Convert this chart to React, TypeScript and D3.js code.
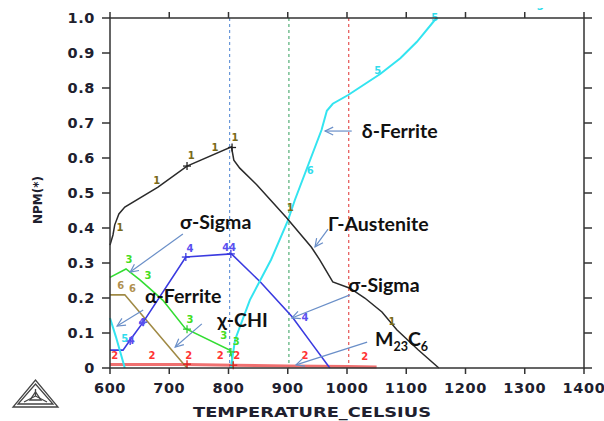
import React from "react";
import * as d3 from "d3";

// ---- data ----
const xTicks = [600, 700, 800, 900, 1000, 1100, 1200, 1300, 1400];
const yTicks = [0, 0.1, 0.2, 0.3, 0.4, 0.5, 0.6, 0.7, 0.8, 0.9, 1.0];
const yTickLabels = ["0", "0.1", "0.2", "0.3", "0.4", "0.5", "0.6", "0.7", "0.8", "0.9", "1.0"];

// series 1 : Γ-Austenite
const austenite: [number, number][] = [
  [600, 0.351], [605, 0.38], [608, 0.409], [615, 0.44], [625, 0.46], [681, 0.517], [730, 0.577],
  [805, 0.632], [809, 0.594], [819, 0.571], [848, 0.523], [898, 0.429], [940, 0.345],
  [954, 0.309], [976, 0.246], [1005, 0.228], [1030, 0.2], [1059, 0.16], [1084, 0.109],
  [1120, 0.052], [1155, 0]
];
// series 5/6 : δ-Ferrite
const deltaLow: [number, number][] = [[600, 0.143], [610, 0.089], [625, 0]];
const deltaHigh: [number, number][] = [
  [804, 0], [811, 0.08], [836, 0.194], [872, 0.31], [900, 0.42], [912, 0.48], [957, 0.68],
  [966, 0.735], [976, 0.755], [1002, 0.78], [1056, 0.84], [1090, 0.885], [1118, 0.932], [1151, 1.0]
];
// series 4 : σ-Sigma
const sigma: [number, number][] = [
  [600, 0.051], [622, 0.051], [634, 0.08], [656, 0.131], [728, 0.317], [805, 0.326],
  [853, 0.247], [907, 0.147], [940, 0.071], [971, 0]
];
// series 3 : green
const chi: [number, number][] = [
  [600, 0.259], [627, 0.283], [651, 0.251], [663, 0.233], [689, 0.194], [727, 0.113],
  [802, 0.051], [806, 0.03], [808, 0]
];
// series 6 : α-Ferrite
const alphaFerrite: [number, number][] = [[600, 0.209], [625, 0.209], [727, 0.006], [731, 0]];
// series 2 : M23C6
const m23c6: [number, number][] = [[600, 0.01], [730, 0.01], [810, 0.008], [900, 0.006], [1000, 0.004], [1050, 0.003]];

// curve label numbers [T, v, text]
const labels1: [number, number, string][] = [
  [617, 0.403, "1"], [679, 0.537, "1"], [737, 0.609, "1"], [777, 0.631, "1"], [811, 0.66, "1"],
  [904, 0.46, "1"], [1076, 0.135, "1"]
];
const labels5: [number, number, string][] = [
  [938, 0.566, "6"], [1052, 0.851, "5"], [1148, 1.003, "5"], [625, 0.086, "5"], [1326, 1.035, "5"]
];
const labels4: [number, number, string][] = [
  [636, 0.08, "4"], [654, 0.131, "4"], [735, 0.343, "4"], [801, 0.346, "44"], [929, 0.146, "4"]
];
const labels3: [number, number, string][] = [
  [632, 0.311, "3"], [664, 0.266, "3"], [735, 0.14, "3"], [792, 0.094, "3"], [813, 0.077, "3"]
];
const labels6: [number, number, string][] = [[618, 0.237, "6"], [638, 0.229, "6"]];
const labels2: [number, number, string][] = [
  [608, 0.037, "2"], [671, 0.037, "2"], [733, 0.037, "2"], [786, 0.037, "2"], [814, 0.037, "2"],
  [929, 0.037, "2"], [1030, 0.033, "2"]
];
const plus1: [number, number][] = [[730, 0.577], [806, 0.63]];
const plus4: [number, number][] = [[634, 0.077], [656, 0.131], [728, 0.317], [804, 0.326]];
const plus3: [number, number][] = [[730, 0.111], [804, 0.046]];
const plus2: [number, number][] = [[730, 0.011], [808, 0.008]];

// dashed reference temperatures
const refTemps = [802, 902, 1003];
const refColors = ["#4a82d0", "#2f9f5a", "#e23030"];

// phase annotations [T, v, text]
const annotations: [number, number, string][] = [
  [718, 0.397, "σ-Sigma"], [968, 0.391, "Γ-Austenite"], [1025, 0.657, "δ-Ferrite"],
  [659, 0.186, "α-Ferrite"], [781, 0.117, "χ-CHI"], [1002, 0.217, "σ-Sigma"]
];
// arrows [T1, v1, T2, v2] from label to curve
const arrows: [number, number, number, number][] = [
  [1008, 0.677, 963, 0.677], [723, 0.383, 634, 0.274], [968, 0.397, 946, 0.346],
  [656, 0.166, 612, 0.12], [755, 0.126, 710, 0.06], [1005, 0.209, 907, 0.143],
  [1034, 0.074, 914, 0.009]
];

const W = 604, H = 421;
const x = d3.scaleLinear().domain([600, 1400]).range([110, 584]);
const y = d3.scaleLinear().domain([0, 1]).range([368, 18]);
const line = d3.line<[number, number]>().x(d => x(d[0])).y(d => y(d[1]));

const tickFont = { fontFamily: "DejaVu Sans", fontWeight: 700, fontSize: 14.5, fill: "#20202e", letterSpacing: 0.6 } as const;
const annFont = { fontFamily: "Lato", fontWeight: 700, fontSize: 19.5, fill: "#111" } as const;
const numFont = { fontFamily: "DejaVu Sans", fontWeight: 700, fontSize: 10 } as const;

function Labels({ data, color }: { data: [number, number, string][]; color: string }) {
  return (
    <g>
      {data.map((d, i) => (
        <text key={i} x={x(d[0])} y={y(d[1]) + 4} textAnchor="middle" style={{ ...numFont, fill: color }}>{d[2]}</text>
      ))}
    </g>
  );
}
function Plus({ data, color }: { data: [number, number][]; color: string }) {
  return (
    <g stroke={color} strokeWidth={1.3}>
      {data.map((d, i) => (
        <g key={i}>
          <line x1={x(d[0]) - 4} x2={x(d[0]) + 4} y1={y(d[1])} y2={y(d[1])} />
          <line x1={x(d[0])} x2={x(d[0])} y1={y(d[1]) - 4} y2={y(d[1]) + 4} />
        </g>
      ))}
    </g>
  );
}

function Arrow({ a }: { a: [number, number, number, number] }) {
  const x1 = x(a[0]), y1 = y(a[1]), x2 = x(a[2]), y2 = y(a[3]);
  const ang = Math.atan2(y1 - y2, x1 - x2);
  const L = 9, s = 0.45;
  const p1 = [x2 + L * Math.cos(ang + s), y2 + L * Math.sin(ang + s)];
  const p2 = [x2 + L * Math.cos(ang - s), y2 + L * Math.sin(ang - s)];
  return (
    <g stroke="#6a8fc8" strokeWidth={1.2} fill="none">
      <line x1={x1} y1={y1} x2={x2} y2={y2} />
      <path d={`M${p1[0]},${p1[1]} L${x2},${y2} L${p2[0]},${p2[1]}`} />
    </g>
  );
}

export default function App() {
  const x0 = x.range()[0], x1 = x.range()[1], y0 = y.range()[0], y1 = y.range()[1];
  return (
    <svg width={W} height={H} style={{ position: "fixed", left: 0, top: 0, background: "#fff" }}>
      <defs>
        <clipPath id="clipTop"><rect x={0} y={8} width={W} height={H} /></clipPath>
      </defs>
      <rect width={W} height={H} fill="#fff" />
      {/* reference dashed lines */}
      {refTemps.map((t, i) => (
        <line key={i} x1={x(t)} x2={x(t)} y1={y1} y2={y0} stroke={refColors[i]} strokeWidth={1} strokeDasharray="3,3" />
      ))}
      {/* curves */}
      <path d={line(m23c6)!} stroke="#f07070" strokeWidth={3} fill="none" />
      <path d={line(alphaFerrite)!} stroke="#a08a45" strokeWidth={1.6} fill="none" />
      <path d={line(chi)!} stroke="#33dd33" strokeWidth={1.6} fill="none" />
      <path d={line(sigma)!} stroke="#3a3ae0" strokeWidth={1.6} fill="none" />
      <path d={line(deltaLow)!} stroke="#33e4f0" strokeWidth={2} fill="none" />
      <path d={line(deltaHigh)!} stroke="#33e4f0" strokeWidth={2} fill="none" />
      <path d={line(austenite)!} stroke="#2a2a2a" strokeWidth={1.5} fill="none" />

      <Plus data={plus1} color="#222" />
      <Plus data={plus4} color="#3a3ae0" />
      <Plus data={plus3} color="#33cc33" />
      <Plus data={plus2} color="#e02020" />

      <Labels data={labels1} color="#7a6a18" />
      <g clipPath="url(#clipTop)"><Labels data={labels5} color="#30dcec" /></g>
      <Labels data={labels4} color="#5a50f0" />
      <Labels data={labels3} color="#44dd22" />
      <Labels data={labels6} color="#b09050" />
      <Labels data={labels2} color="#ff3333" />

      {/* frame */}
      <rect x={x0} y={y1} width={x1 - x0} height={y0 - y1} fill="none" stroke="#333" strokeWidth={1.5} />
      {xTicks.map((t, i) => (
        <g key={i}>
          <line x1={x(t)} x2={x(t)} y1={y0} y2={y0 + 6} stroke="#333" strokeWidth={1.5} />
          <line x1={x(t)} x2={x(t)} y1={y1} y2={y1 - 6} stroke="#333" strokeWidth={1.5} />
          <text x={x(t)} y={y0 + 25} textAnchor="middle" style={tickFont}>{t}</text>
        </g>
      ))}
      {yTicks.map((t, i) => (
        <g key={i}>
          <line x1={x0} x2={x0 - 8} y1={y(t)} y2={y(t)} stroke="#333" strokeWidth={1.5} />
          <line x1={x1} x2={x1 + 8} y1={y(t)} y2={y(t)} stroke="#333" strokeWidth={1.5} />
          <text x={95} y={y(t) + 5} textAnchor="end" style={tickFont}>{yTickLabels[i]}</text>
        </g>
      ))}
      <text x={312} y={417} textAnchor="middle" style={{ fontFamily: "DejaVu Sans", fontWeight: 700, fontSize: 14.5, fill: "#20202e" }} textLength={238} lengthAdjust="spacingAndGlyphs">TEMPERATURE_CELSIUS</text>
      <text transform="translate(42,200) rotate(-90)" textAnchor="middle" style={{ fontFamily: "DejaVu Sans", fontWeight: 700, fontSize: 12, fill: "#20202e" }}>NPM(*)</text>

      {/* annotations */}
      {arrows.map((a, i) => <Arrow key={i} a={a} />)}
      {annotations.map((a, i) => (
        <text key={i} x={x(a[0])} y={y(a[1])} style={annFont}>{a[2]}</text>
      ))}
      <text x={375} y={346} style={annFont}>M<tspan fontSize={12.5} dy={5}>23</tspan><tspan dy={-5}>C</tspan><tspan fontSize={12.5} dy={5}>6</tspan></text>

      {/* Thermo-Calc logo */}
      <g fill="none" stroke="#444" strokeWidth={1.3}>
        <path d="M13,407 L58,407 L35.5,380 Z" />
        <path d="M18,404 L53,404 L35.5,384 Z" />
        <path d="M35.5,389 L35.5,396 M35.5,396 L24,402 M35.5,396 L47,402" />
        <path d="M30,400 L41,400 L35.5,392 Z" />
      </g>
    </svg>
  );
}
